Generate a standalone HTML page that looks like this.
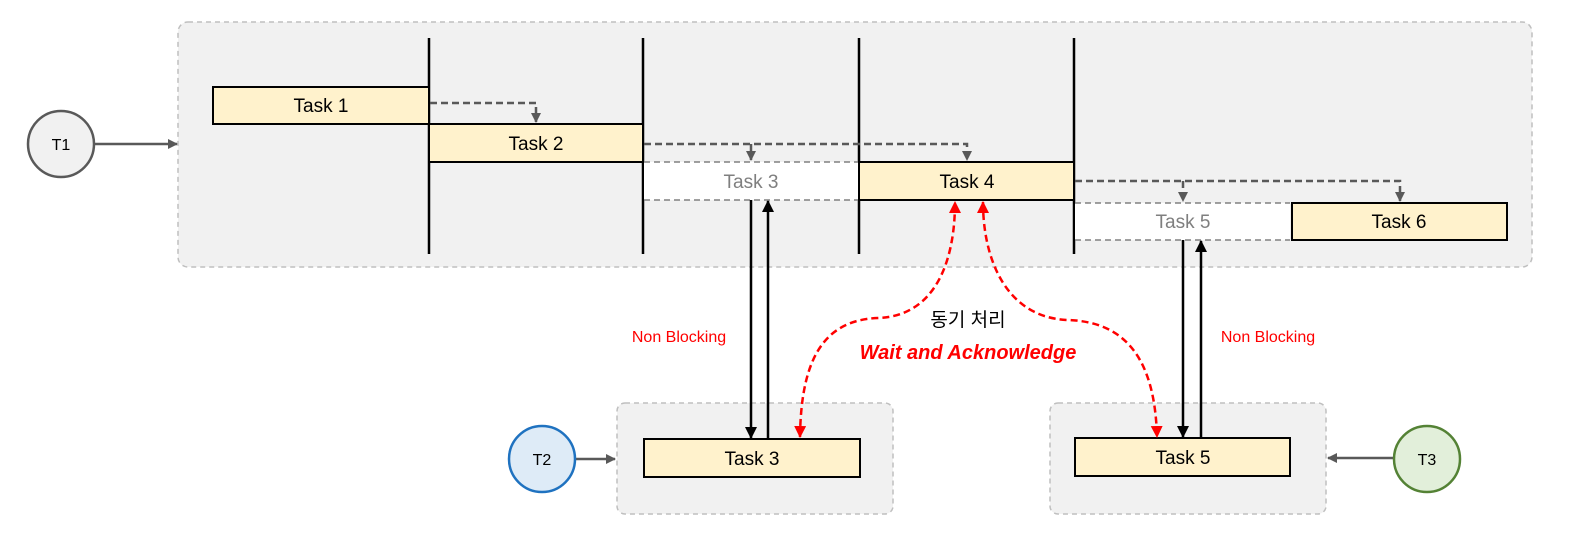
<!DOCTYPE html>
<html><head><meta charset="utf-8"><style>
html,body{margin:0;padding:0;background:#fff;}
svg{display:block;}
text{font-family:"Liberation Sans","Noto Sans CJK KR",sans-serif;}
</style></head><body>
<svg width="1569" height="537" viewBox="0 0 1569 537" xmlns="http://www.w3.org/2000/svg">
<defs>
<marker id="ag" markerWidth="10" markerHeight="10" refX="9" refY="5" orient="auto" markerUnits="userSpaceOnUse"><path d="M0,0 L10,5 L0,10 z" fill="#595959"/></marker>
<marker id="ab" markerWidth="12" markerHeight="12" refX="11" refY="6" orient="auto" markerUnits="userSpaceOnUse"><path d="M0,0 L12,6 L0,12 z" fill="#000"/></marker>
<marker id="ar" markerWidth="12" markerHeight="12" refX="11" refY="6" orient="auto-start-reverse" markerUnits="userSpaceOnUse"><path d="M0,0 L12,6 L0,12 z" fill="#ff0000"/></marker>
</defs>
<rect x="178" y="22" width="1354" height="245" rx="10" fill="#f1f1f1" stroke="#bfbfbf" stroke-width="1.5" stroke-dasharray="5,4"/>
<rect x="617" y="403" width="276" height="111" rx="8" fill="#f1f1f1" stroke="#bfbfbf" stroke-width="1.5" stroke-dasharray="5,4"/>
<rect x="1050" y="403" width="276" height="111" rx="8" fill="#f1f1f1" stroke="#bfbfbf" stroke-width="1.5" stroke-dasharray="5,4"/>
<g stroke="#000" stroke-width="2.5">
<line x1="429" y1="38" x2="429" y2="254"/><line x1="643" y1="38" x2="643" y2="254"/>
<line x1="859" y1="38" x2="859" y2="254"/><line x1="1074" y1="38" x2="1074" y2="254"/>
</g>
<g font-size="19" text-anchor="middle">
<rect x="213" y="87" width="216" height="37" fill="#fff2cc" stroke="#000" stroke-width="2"/><text x="321" y="112">Task 1</text>
<rect x="429" y="124" width="214" height="38" fill="#fff2cc" stroke="#000" stroke-width="2"/><text x="536" y="150">Task 2</text>
<rect x="644" y="162" width="215" height="38" fill="#fff"/>
<path d="M644,162 H859 M644,200 H859" stroke="#808080" stroke-width="1.5" stroke-dasharray="6,4"/>
<text x="751" y="188" fill="#7f7f7f">Task 3</text>
<rect x="859" y="162" width="215" height="38" fill="#fff2cc" stroke="#000" stroke-width="2"/><text x="967" y="188">Task 4</text>
<rect x="1075" y="203" width="215" height="37" fill="#fff"/>
<path d="M1075,203 H1290 M1075,240 H1290" stroke="#808080" stroke-width="1.5" stroke-dasharray="6,4"/>
<text x="1183" y="228" fill="#7f7f7f">Task 5</text>
<rect x="1292" y="203" width="215" height="37" fill="#fff2cc" stroke="#000" stroke-width="2"/><text x="1399" y="228">Task 6</text>
<rect x="644" y="439" width="216" height="38" fill="#fff2cc" stroke="#000" stroke-width="2"/><text x="752" y="465">Task 3</text>
<rect x="1075" y="438" width="215" height="38" fill="#fff2cc" stroke="#000" stroke-width="2"/><text x="1183" y="464">Task 5</text>
</g>
<g fill="none" stroke="#595959" stroke-width="2.5" stroke-dasharray="7,4">
<path d="M430,103 H536 V122" marker-end="url(#ag)"/>
<path d="M644,144 H967 V160" marker-end="url(#ag)"/>
<path d="M751,144 V160" marker-end="url(#ag)"/>
<path d="M1075,181 H1400 V201" marker-end="url(#ag)"/>
<path d="M1183,181 V201" marker-end="url(#ag)"/>
</g>
<g stroke="#000" stroke-width="2.5">
<line x1="751" y1="200" x2="751" y2="438" marker-end="url(#ab)"/>
<line x1="768" y1="439" x2="768" y2="201" marker-end="url(#ab)"/>
<line x1="1183" y1="240" x2="1183" y2="437" marker-end="url(#ab)"/>
<line x1="1201" y1="438" x2="1201" y2="241" marker-end="url(#ab)"/>
</g>
<g fill="none" stroke="#ff0000" stroke-width="2.5" stroke-dasharray="7,4">
<path d="M800,437 C801,365 820,320 878,318 C935,316 955,262 955,202" marker-end="url(#ar)" marker-start="url(#ar)"/>
<path d="M983,202 C983,262 1008,318 1068,320 C1128,322 1155,362 1157,437" marker-end="url(#ar)" marker-start="url(#ar)"/>
</g>
<text x="968" y="326" font-size="19" text-anchor="middle">동기 처리</text>
<text x="968" y="359" font-size="20" font-weight="bold" font-style="italic" fill="#ff0000" text-anchor="middle">Wait and Acknowledge</text>
<text x="679" y="342" font-size="16" fill="#ff0000" text-anchor="middle">Non Blocking</text>
<text x="1268" y="342" font-size="16" fill="#ff0000" text-anchor="middle">Non Blocking</text>
<g stroke="#595959" stroke-width="2.5">
<line x1="94" y1="144" x2="177" y2="144" marker-end="url(#ag)"/>
<line x1="575" y1="459" x2="615" y2="459" marker-end="url(#ag)"/>
<line x1="1393" y1="458" x2="1328" y2="458" marker-end="url(#ag)"/>
</g>
<circle cx="61" cy="144" r="33" fill="#f1f1f1" stroke="#595959" stroke-width="2.5"/>
<circle cx="542" cy="459" r="33" fill="#deebf7" stroke="#1f72c0" stroke-width="2.5"/>
<circle cx="1427" cy="459" r="33" fill="#e2efda" stroke="#548235" stroke-width="2.5"/>
<g font-size="16" text-anchor="middle">
<text x="61" y="150">T1</text><text x="542" y="465">T2</text><text x="1427" y="465">T3</text>
</g>
</svg>
</body></html>
